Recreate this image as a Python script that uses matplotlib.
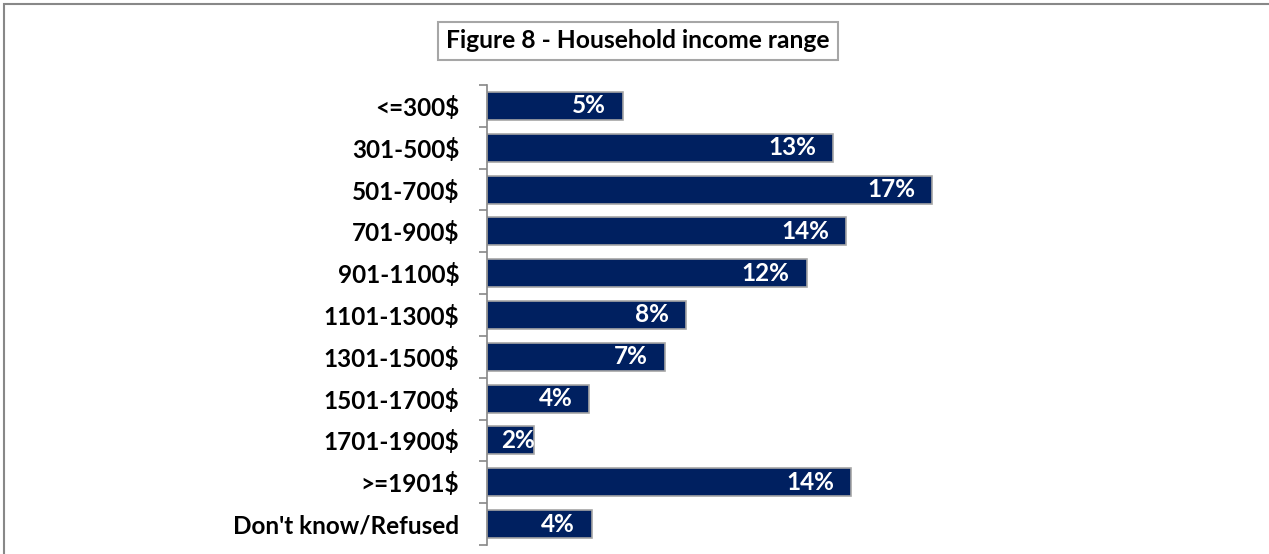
import matplotlib
matplotlib.use("Agg")
import matplotlib.pyplot as plt
from matplotlib.patches import Rectangle
from matplotlib.transforms import offset_copy

categories = ["<=300$", "301-500$", "501-700$", "701-900$", "901-1100$",
              "1101-1300$", "1301-1500$", "1501-1700$", "1701-1900$",
              ">=1901$", "Don't know/Refused"]
values = [5.2, 13.2, 17.0, 13.7, 12.2, 7.6, 6.8, 3.9, 1.8, 13.9, 4.0]
labels = ["5%", "13%", "17%", "14%", "12%", "8%", "7%", "4%", "2%", "14%", "4%"]
title = "Figure 8 - Household income range"

W, H = 1269, 554
DPI = 100
FONT = "Lato"
NAVY = "#002060"
FS = 17.5

fig = plt.figure(figsize=(W / DPI, H / DPI), dpi=DPI)

# outer frame
fig.patches.append(Rectangle((4 / W, -0.1), 1.2, (H - 4) / H + 0.1,
                             transform=fig.transFigure, fill=False,
                             edgecolor="#888888", linewidth=1.5))

ax_left, ax_top, ax_bottom = 487, 85, 545
xmax = 28.0
px_per_unit = 26.2
ax_w = xmax * px_per_unit
ax = fig.add_axes([ax_left / W, (H - ax_bottom) / H, ax_w / W, (ax_bottom - ax_top) / H])

n = len(categories)
ypos = list(range(n))
ax.barh(ypos, values, height=0.67, color=NAVY, edgecolor="#a6a6a6", linewidth=1.2)
ax.set_xlim(0, xmax)
ax.set_ylim(n - 0.5, -0.5)

for sp in ["top", "right", "bottom"]:
    ax.spines[sp].set_visible(False)
ax.spines["left"].set_color("#888888")
ax.spines["left"].set_linewidth(1.2)
ax.set_xticks([])
ax.set_yticks(ypos)
ax.set_yticklabels(categories, fontfamily=FONT, fontweight="bold", fontsize=FS)
ax.tick_params(axis="y", which="major", length=0, pad=20)
ax.set_yticks([i - 0.5 for i in range(n + 1)], minor=True)
ax.tick_params(axis="y", which="minor", length=6, width=1.2, color="#888888")

for i, (v, lab) in enumerate(zip(values, labels)):
    if v < 3:
        tr = offset_copy(ax.transData, fig=fig, x=14, y=0, units="dots")
        ax.text(0, i, lab, transform=tr, ha="left", va="center", color="white",
                fontfamily=FONT, fontweight="bold", fontsize=FS)
    else:
        tr = offset_copy(ax.transData, fig=fig, x=-17, y=0, units="dots")
        ax.text(v, i, lab, transform=tr, ha="right", va="center", color="white",
                fontfamily=FONT, fontweight="bold", fontsize=FS)

fig.text(638 / W, (H - 41) / H, title, ha="center", va="center",
         fontfamily=FONT, fontweight="bold", fontsize=17.7,
         bbox=dict(boxstyle="square,pad=0.32", facecolor="white",
                   edgecolor="#a6a6a6", linewidth=1.5))

fig.savefig("out.png", dpi=DPI)
